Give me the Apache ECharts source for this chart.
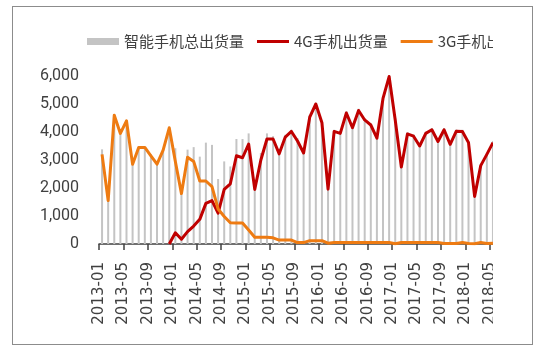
<!DOCTYPE html>
<head>
    <meta charset="utf-8">
    <title>ECharts</title>
    <style>
        body { margin: 0; background: #fff; }
        #clip { position: absolute; left: 0; top: 0; width: 493px; height: 353px; overflow: hidden; }
        #main { width: 552px; height: 353px; }
        #frame { position: absolute; left: 12px; top: 6px; width: 519px; height: 337px; border: 1px solid #8c8c8c; pointer-events: none; }
    </style>
</head>
<body>
    <div id="clip"><div id="main"></div></div>
    <div id="frame"></div>
    <script src="https://cdn.jsdelivr.net/npm/echarts/dist/echarts.min.js"></script>
    <script type="text/javascript">

        // 月份 (2013-01 ~ 2018-05)
        var months = [
            '2013-01','2013-02','2013-03','2013-04','2013-05','2013-06','2013-07','2013-08','2013-09','2013-10','2013-11','2013-12',
            '2014-01','2014-02','2014-03','2014-04','2014-05','2014-06','2014-07','2014-08','2014-09','2014-10','2014-11','2014-12',
            '2015-01','2015-02','2015-03','2015-04','2015-05','2015-06','2015-07','2015-08','2015-09','2015-10','2015-11','2015-12',
            '2016-01','2016-02','2016-03','2016-04','2016-05','2016-06','2016-07','2016-08','2016-09','2016-10','2016-11','2016-12',
            '2017-01','2017-02','2017-03','2017-04','2017-05','2017-06','2017-07','2017-08','2017-09','2017-10','2017-11','2017-12',
            '2018-01','2018-02','2018-03','2018-04','2018-05'
        ];
        // 刻度标签，落在月份边界上 (多一个结束边界)
        var tickLabels = months.concat(['2018-06']);

        // 智能手机总出货量
        var totalShip = [
            3380,1600,4620,3980,4420,2900,3480,3480,3200,2900,3400,4150,
            3420,2000,3370,3460,3120,3620,3540,2320,2950,2770,3750,3750,
            3950,2300,3250,3950,3850,3400,3900,4080,3780,3350,4600,5050,
            4400,2050,4080,4010,4740,4210,4830,4490,4310,3840,5260,6000,
            4490,2810,3990,3910,3560,4010,4140,3720,4140,3620,4090,4080,
            3680,1760,2860,3260,3680
        ];
        // 4G手机出货量
        var ship4G = [
            null,null,null,null,null,null,null,null,null,null,null,0,
            400,170,440,640,880,1450,1550,1100,1950,2150,3150,3080,
            3570,1950,3000,3750,3750,3220,3820,4020,3680,3250,4530,5000,
            4330,1960,4020,3950,4680,4150,4770,4430,4250,3780,5200,5980,
            4430,2750,3930,3850,3500,3950,4080,3660,4080,3560,4030,4020,
            3620,1700,2800,3200,3620
        ];
        // 3G手机出货量
        var ship3G = [
            3200,1550,4600,3950,4400,2850,3450,3450,3150,2850,3350,4150,
            2950,1800,3100,2950,2250,2250,2050,1250,980,760,750,750,
            500,240,240,240,220,140,140,140,50,50,120,120,
            120,30,50,50,50,50,50,50,50,50,50,50,
            10,50,50,50,50,50,50,50,20,20,20,50,
            15,10,50,20,30
        ];

        var axisColor = '#404040';
        // 图例里的细线图标 (上下留空, 保持 32x7 的外框)
        var lineIcon = 'path://M0,0L0.01,0L0,0Z M0,2L32,2L32,5L0,5Z M32,7L31.99,7L32,7Z';

        var myChart = echarts.init(document.getElementById('main'));

        var option = {
            animation: false,
            legend: {
                left: 82,
                top: 29,
                itemWidth: 32,
                itemHeight: 7,
                itemGap: 13,
                textStyle: { fontSize: 15, fontFamily: 'Noto Sans CJK SC', color: axisColor },
                data: [
                    { name: '智能手机总出货量', icon: 'rect' },
                    { name: '4G手机出货量', icon: lineIcon },
                    { name: '3G手机出货量', icon: lineIcon }
                ]
            },
            grid: { left: 99, top: 76, width: 397, height: 168 },
            xAxis: [
                {
                    // 数据用的轴
                    type: 'category',
                    data: months,
                    boundaryGap: true,
                    show: false
                },
                {
                    // 只画轴线、刻度和标签
                    type: 'category',
                    data: tickLabels,
                    boundaryGap: false,
                    position: 'bottom',
                    axisLine: { lineStyle: { color: axisColor, width: 1.5 } },
                    axisTick: { interval: 3, length: 6, lineStyle: { color: axisColor, width: 1.5 } },
                    axisLabel: {
                        interval: 3, rotate: 90, margin: 18,
                        fontSize: 15, fontFamily: 'DejaVu Sans', color: axisColor
                    },
                    splitLine: { show: false }
                }
            ],
            yAxis: {
                type: 'value',
                min: 0,
                max: 6000,
                interval: 1000,
                axisLine: { show: false },
                axisTick: { show: false },
                splitLine: { show: false },
                axisLabel: {
                    margin: 20, fontSize: 16, fontFamily: 'Roboto', color: axisColor,
                    formatter: function (v) { return v.toLocaleString('en-US'); }
                }
            },
            series: [
                {
                    name: '智能手机总出货量',
                    type: 'bar',
                    xAxisIndex: 0,
                    barWidth: 2,
                    itemStyle: { color: '#c4c4c4' },
                    data: totalShip
                },
                {
                    name: '4G手机出货量',
                    type: 'line',
                    xAxisIndex: 0,
                    symbol: 'none',
                    lineStyle: { color: '#c00000', width: 3, join: 'round' },
                    itemStyle: { color: '#c00000' },
                    data: ship4G
                },
                {
                    name: '3G手机出货量',
                    type: 'line',
                    xAxisIndex: 0,
                    symbol: 'none',
                    lineStyle: { color: '#ee7b12', width: 3, join: 'round' },
                    itemStyle: { color: '#ee7b12' },
                    data: ship3G
                }
            ]
        };

        myChart.setOption(option);
    </script>
</body>
